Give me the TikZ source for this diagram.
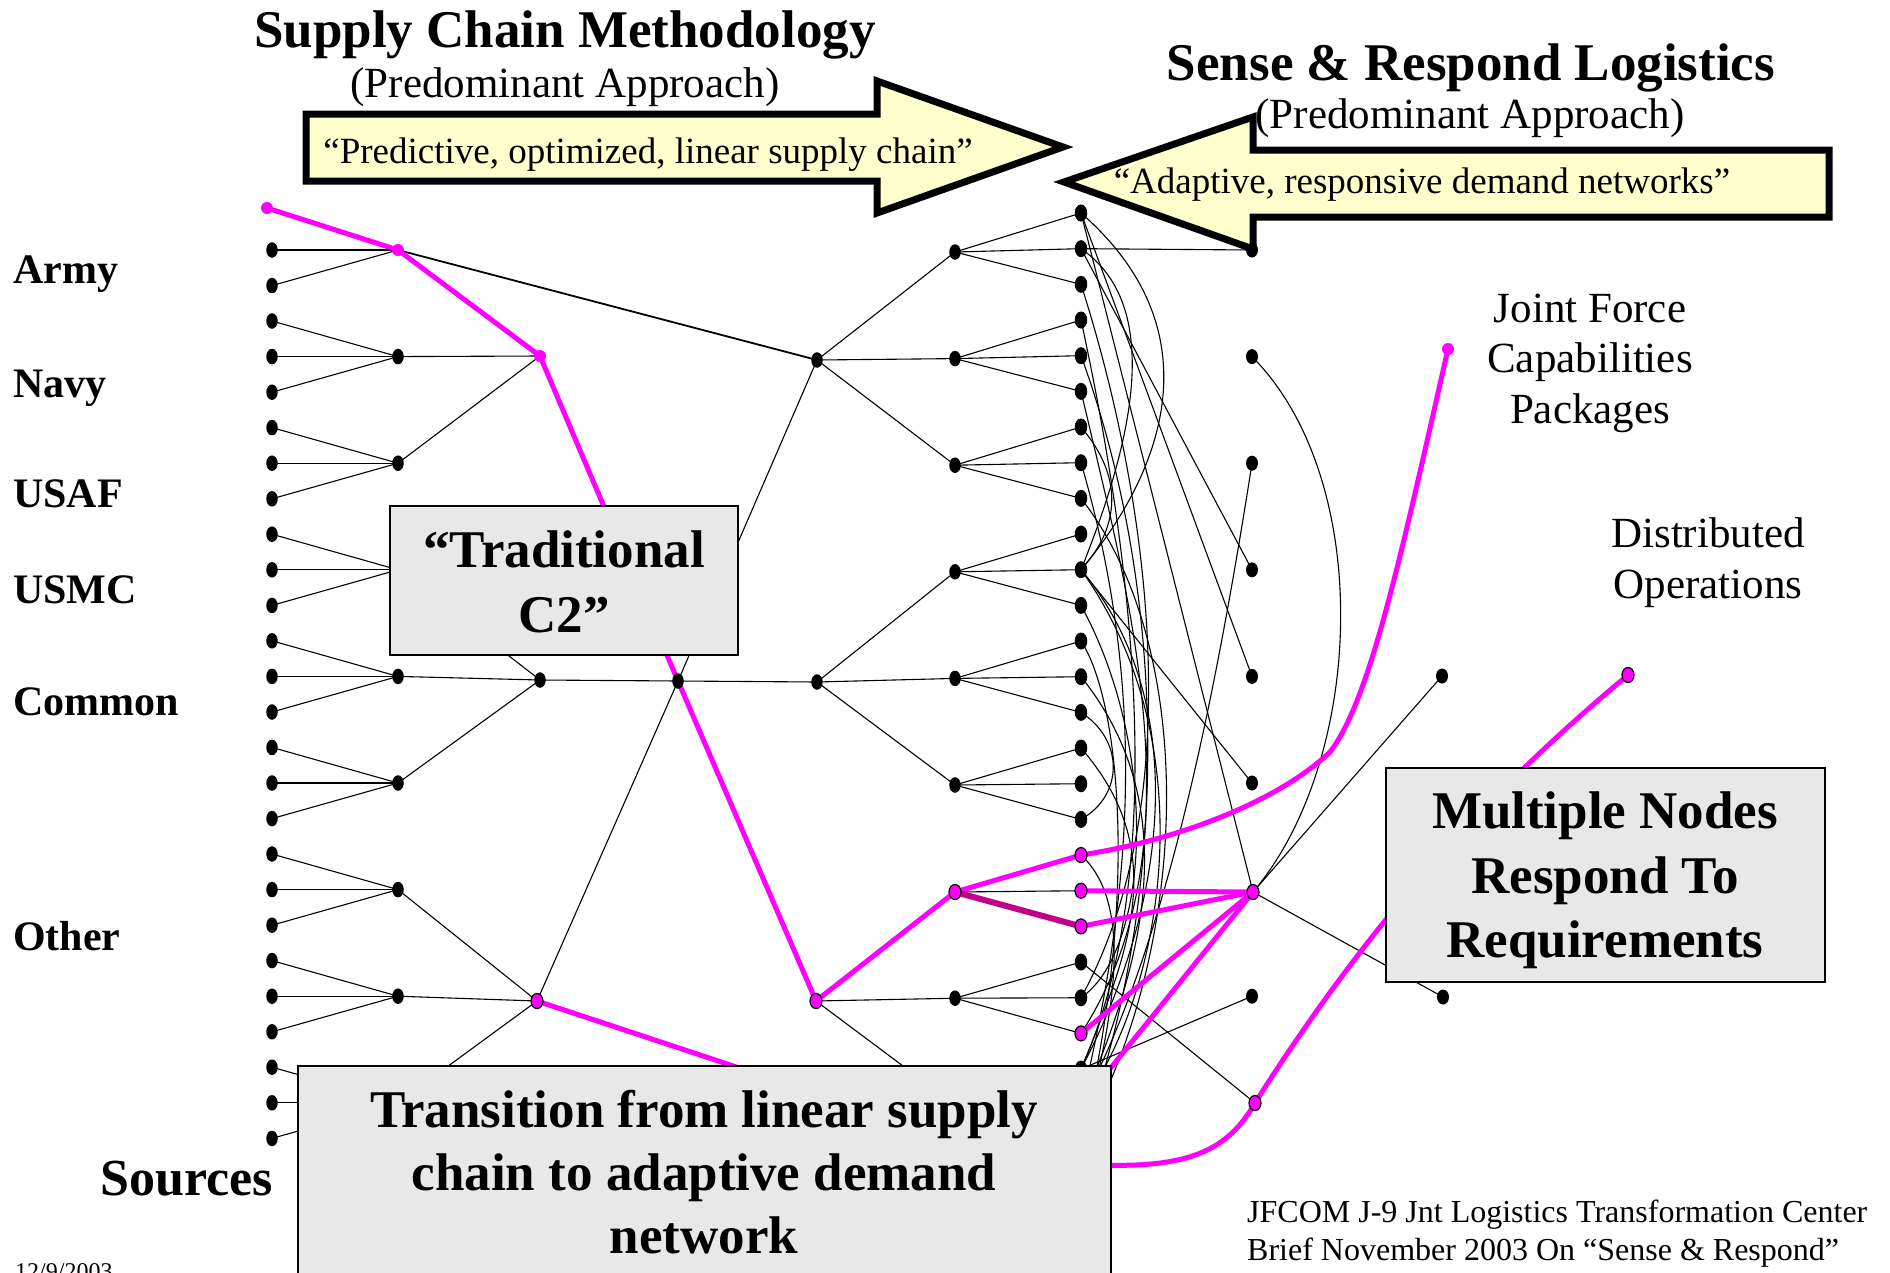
\documentclass[tikz,border=0pt]{standalone}
\usepackage{fontspec}
\setmainfont{Liberation Serif}
\usetikzlibrary{shapes.geometric}
\pgfdeclarelayer{wires}
\pgfdeclarelayer{pinks}
\pgfdeclarelayer{front}
\pgfsetlayers{wires,pinks,main,front}
\definecolor{mag}{RGB}{255,0,255}
\definecolor{darkmag}{RGB}{192,0,140}
\definecolor{boxgray}{RGB}{232,232,232}
\definecolor{pale}{RGB}{255,255,204}
\begin{document}
\begin{tikzpicture}[x=1pt,y=-1pt,
  sdot/.style={ellipse, fill=black, inner sep=0pt, minimum width=11.5pt, minimum height=15.5pt},
  fdot/.style={ellipse, fill=black, inner sep=0pt, minimum width=12.5pt, minimum height=17pt},
  rdot/.style={ellipse, fill=black, inner sep=0pt, minimum width=12pt, minimum height=15pt},
  pdot/.style={ellipse, fill=mag, draw=black, line width=1.2pt, inner sep=0pt, minimum width=12pt, minimum height=15pt},
  pdotb/.style={circle, fill=mag, inner sep=0pt, minimum size=12pt},
  wire/.style={line width=1.1pt, black},
  pinkpath/.style={line width=5pt, mag, line cap=round, line join=round},
  box/.style={draw=black, line width=2pt, fill=boxgray, inner sep=0pt},
  arrowshape/.style={draw=black, fill=pale, line width=7pt, line join=miter},
  lab/.style={font=\fontsize{42}{50}\selectfont\bfseries, anchor=base west, inner sep=0pt},
  title/.style={font=\fontsize{53}{60}\selectfont\bfseries, anchor=base, inner sep=0pt},
  sub/.style={font=\fontsize{43}{50}\selectfont, anchor=base, inner sep=0pt},
  quote/.style={font=\fontsize{37}{44}\selectfont, anchor=base, inner sep=0pt},
  boxtext/.style={font=\fontsize{53}{60}\selectfont\bfseries, anchor=base, inner sep=0pt},
  note/.style={font=\fontsize{32}{38}\selectfont, anchor=base west, inner sep=0pt}
]
\useasboundingbox (0,0) rectangle (1890,1272);

% ---------- dots ----------
\node[pdotb] (s0) at (267,208) {};
\foreach \k in {1,...,26}{
  \pgfmathsetmacro{\yy}{250+106.6*int(\k/3)+35.6*(mod(\k,3)-1)}
  \node[sdot] (s\k) at (272,\yy) {};
}
\node[pdotb] (a0) at (398,250) {};
\foreach \k in {1,...,8}{
  \pgfmathsetmacro{\yy}{250+106.6*\k}
  \node[sdot] (a\k) at (398,\yy) {};
}
\node[pdotb] (b0) at (540,356) {};
\node[sdot] (b1) at (540,680) {};
\node[pdot] (b2) at (537,1001) {};
\node[sdot] (m) at (678,681) {};
\node[sdot] (c0) at (817,360) {};
\node[sdot] (c1) at (817,682) {};
\node[pdot] (c2) at (816,1001) {};
\foreach \k in {0,...,5,7,8}{
  \pgfmathsetmacro{\yy}{252+106.6*\k}
  \node[sdot] (d\k) at (955,\yy) {};
}
\node[pdot] (d6) at (955,892) {};
\foreach \k in {0,...,17,21,22,24,25,26}{
  \pgfmathsetmacro{\yy}{213+35.67*\k}
  \node[fdot] (f\k) at (1081,\yy) {};
}
\foreach \k in {18,19,20,23}{
  \pgfmathsetmacro{\yy}{213+35.67*\k}
  \node[pdot] (f\k) at (1081,\yy) {};
}
\foreach \k in {0,...,5,7}{
  \pgfmathsetmacro{\yy}{250+106.6*\k}
  \node[rdot] (r\k) at (1252,\yy) {};
}
\node[pdot] (r6) at (1253,892) {};
\node[pdot] (r8) at (1255,1103) {};
\node[rdot] (g1) at (1442,676) {};
\node[rdot] (g2) at (1443,997) {};
\node[pdot] (dop) at (1628,675) {};
\node[pdotb] (jfcp) at (1448,349) {};
\coordinate (pinkhid) at (830,1098);
\coordinate (tend) at (1100,1165);

% ---------- black wires ----------
\begin{pgfonlayer}{wires}
\foreach \k in {0,...,26}{
  \pgfmathtruncatemacro{\j}{int(\k/3)}
  \draw[wire] (s\k.center) -- (a\j.center);
}
\foreach \k in {0,1,2}{\draw[wire] (a\k.center) -- (b0.center);}
\foreach \k in {3,4,5}{\draw[wire] (a\k.center) -- (b1.center);}
\foreach \k in {6,7,8}{\draw[wire] (a\k.center) -- (b2.center);}
\draw[wire, line width=1.8pt] (a0.center) -- (c0.center);
\foreach \k in {0,1,2}{\draw[wire] (b\k.center) -- (m.center);}
\foreach \k in {0,1,2}{\draw[wire] (m.center) -- (c\k.center);}
\foreach \k in {0,...,8}{
  \pgfmathtruncatemacro{\j}{int(\k/3)}
  \draw[wire] (c\j.center) -- (d\k.center);
}
\foreach \k in {0,...,26}{
  \pgfmathtruncatemacro{\j}{int(\k/3)}
  \draw[wire] (d\j.center) -- (f\k.center);
}
% tangle
\draw[wire] (f1.center) -- (r0.center);
\draw[wire] (f0.center) -- (r4.center);
\draw[wire] (f0.center) -- (r6.center);
\draw[wire] (f1.center) -- (r3.center);
\draw[wire] (f10.center) -- (r5.center);
\draw[wire] (f21.center) -- (r8.center);
\draw[wire] (r7.center) -- (f24.center);
\draw[wire] (r6.center) -- (g1.center);
\draw[wire] (r6.center) -- (g2.center);
\draw[wire] (r1.center) .. controls (1375,480) and (1365,760) .. (r6.center);
\draw[wire] (r2.center) .. controls (1215,700) and (1165,950) .. (f25.center);
\draw[wire] (f6.center) .. controls (1122,475) and (1122,525) .. (f10.center);
\draw[wire] (f14.center) .. controls (1124,740) and (1124,795) .. (f17.center);
\draw[wire] (f0.center) .. controls (1215,330) and (1165,470) .. (f10.center);
\draw[wire] (f1.center) .. controls (1170,310) and (1125,460) .. (f10.center);
\draw[wire] (f2.center) .. controls (1150,500) and (1190,800) .. (f22.center);
\draw[wire] (f3.center) .. controls (1120,500) and (1180,850) .. (f24.center);
\draw[wire] (f4.center) .. controls (1170,600) and (1170,900) .. (f26.center);
\draw[wire] (f5.center) .. controls (1130,600) and (1200,850) .. (f23.center);
\draw[wire] (f7.center) .. controls (1150,700) and (1130,900) .. (f25.center);
\draw[wire] (f8.center) .. controls (1200,650) and (1190,950) .. (f26.center);
\draw[wire] (f10.center) .. controls (1190,700) and (1170,900) .. (f24.center);
\draw[wire] (f10.center) .. controls (1210,750) and (1160,1000) .. (f25.center);
\draw[wire] (f11.center) .. controls (1160,750) and (1150,950) .. (f22.center);
\draw[wire] (f12.center) .. controls (1120,700) and (1140,900) .. (f26.center);
\draw[wire] (f13.center) .. controls (1180,800) and (1150,950) .. (f25.center);
\draw[wire] (f15.center) .. controls (1170,850) and (1130,950) .. (f24.center);
\draw[wire] (f18.center) .. controls (1130,900) and (1120,1000) .. (f26.center);
\end{pgfonlayer}

% ---------- magenta paths ----------
\begin{pgfonlayer}{pinks}
\draw[pinkpath] (s0.center) -- (a0.center) -- (b0.center) -- (m.center) -- (c2.center) -- (d6.center) -- (f18.center);
\draw[pinkpath] (f18.center) .. controls (1180,840) and (1280,800) .. (1330,752) .. controls (1370,700) and (1400,560) .. (jfcp.center);
\draw[pinkpath] (b2.center) -- (pinkhid);
\draw[line width=6pt, darkmag] (d6.center) -- (f20.center);
\draw[pinkpath] (f19.center) -- (r6.center);
\draw[pinkpath] (f20.center) -- (r6.center);
\draw[pinkpath] (f23.center) -- (r6.center);
\draw[pinkpath] (r6.center) -- (f25.center);
\draw[pinkpath] (dop.center) .. controls (1520,765) and (1390,890) .. (r8.center) .. controls (1228,1150) and (1190,1168) .. (tend);
\end{pgfonlayer}

% ---------- boxes, arrows, texts ----------
\begin{pgfonlayer}{front}
\draw[arrowshape] (306,114) -- (877,114) -- (877,81) -- (1063,147) -- (877,213) -- (877,181) -- (306,181) -- cycle;
\draw[arrowshape] (1064,182) -- (1253,117) -- (1253,150) -- (1829,150) -- (1829,217) -- (1253,217) -- (1253,249) -- cycle;

\node[title] (t1) at (565,47) {Supply Chain Methodology};
\node[sub] (t1s) at (565,97) {(Predominant Approach)};
\node[title] (t2) at (1471,80) {Sense \& Respond Logistics};
\node[sub] (t2s) at (1470,128) {(Predominant Approach)};
\node[quote] (q1) at (648,163) {“Predictive, optimized, linear supply chain”};
\node[quote] (q2) at (1422,193) {“Adaptive, responsive demand networks”};

\node[lab] (army) at (13,283) {Army};
\node[lab] (navy) at (13,397) {Navy};
\node[lab] (usaf) at (13,507) {USAF};
\node[lab] (usmc) at (13,603) {USMC};
\node[lab] (common) at (13,715) {Common};
\node[lab] (other) at (13,950) {Other};
\node[font=\fontsize{52}{60}\selectfont\bfseries, anchor=base west, inner sep=0pt] (sources) at (100,1195) {Sources};

\node[sub] (jf1) at (1590,322) {Joint Force};
\node[sub] (jf2) at (1590,372) {Capabilities};
\node[sub] (jf3) at (1590,423) {Packages};
\node[sub] (do1) at (1708,547) {Distributed};
\node[sub] (do2) at (1708,598) {Operations};

\node[box, minimum width=348pt, minimum height=149pt] (tradbox) at (564,580.5) {};
\node[boxtext] (tr1) at (564,567) {“Traditional};
\node[boxtext] (tr2) at (564,632) {C2”};

\node[box, minimum width=439pt, minimum height=214pt] (multbox) at (1605.5,875) {};
\node[boxtext] (mu1) at (1605,828) {Multiple Nodes};
\node[boxtext] (mu2) at (1605,893) {Respond To};
\node[boxtext] (mu3) at (1605,957) {Requirements};

\node[box, minimum width=813pt, minimum height=240pt] (transbox) at (704.5,1186) {};
\node[boxtext] (tn1) at (704,1127) {Transition from linear supply};
\node[boxtext] (tn2) at (704,1190) {chain to adaptive demand};
\node[boxtext] (tn3) at (704,1253) {network};

\node[note] (jf) at (1247,1222) {JFCOM J-9 Jnt Logistics Transformation Center};
\node[note] (br) at (1247,1260) {Brief November 2003 On “Sense \& Respond”};
\node[font=\fontsize{24}{28}\selectfont, anchor=base west, inner sep=0pt] (date) at (15,1279) {12/9/2003};
\end{pgfonlayer}
\end{tikzpicture}
\end{document}
